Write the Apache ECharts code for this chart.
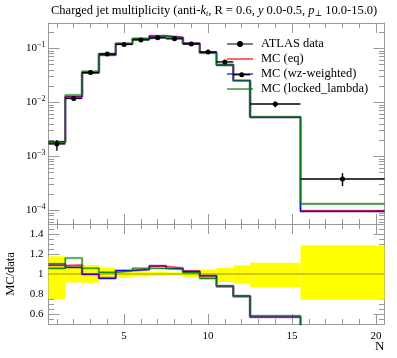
<!DOCTYPE html>
<html><head><meta charset="utf-8">
<script src="https://cdn.jsdelivr.net/npm/echarts@6/dist/echarts.min.js"></script>
<style>html,body{margin:0;padding:0;background:#fff}#c{width:397px;height:358px}</style>
</head><body><div id="c"></div>
<script>
// ---- data ----
const binLow    = [0.5,1.5,2.5,3.5,4.5,5.5,6.5,7.5,8.5,9.5,10.5,11.5,12.5,15.5];
const binHigh   = [1.5,2.5,3.5,4.5,5.5,6.5,7.5,8.5,9.5,10.5,11.5,12.5,15.5,20.5];
const binCenter = [1,2,3,4,5,6,7,8,9,10,11,12,14,18];
const dataVal     = [1.70e-3,0.0118,0.0355,0.0785,0.118,0.143,0.156,0.150,0.120,0.0855,0.0560,0.0325,0.0093,3.8e-4];
const dataErrUp   = [3.0e-4,1.06e-3,3.2e-3,5.2e-3,3.9e-3,3.6e-3,3.1e-3,2.6e-3,3.6e-3,3.8e-3,3.5e-3,2.8e-3,1.04e-3,1.08e-4];
const dataErrDown = [4.25e-4,1.0e-3,3.1e-3,4.2e-3,4.4e-3,3.6e-3,3.1e-3,2.6e-3,3.6e-3,4.7e-3,4.5e-3,3.1e-3,1.23e-3,0.98e-4];
const mcEq     = [1.845e-3,0.01286,0.0354,0.0755,0.1221,0.1494,0.1677,0.159,0.1236,0.0838,0.0489,0.02535,0.0053,9.8e-5];
const mcWz     = [1.87e-3,0.01258,0.0354,0.0750,0.1222,0.1494,0.1688,0.1583,0.1232,0.0840,0.0493,0.02535,0.0053,9.6e-5];
const mcLocked = [1.795e-3,0.01369,0.03752,0.0798,0.1219,0.1512,0.1646,0.1572,0.1216,0.0818,0.0493,0.0251,0.00542,1.32e-4];
const seriesNames = ['ATLAS data','MC (eq)','MC (wz-weighted)','MC (locked_lambda)'];
const xLabelValues = [5,10,15,20];
const xMinorTicks = [1,2,3,4,5,6,7,8,9,10,11,12,13,14,15,16,17,18,19,20];
const yMainMajor = [1e-4,1e-3,1e-2,1e-1];
const yMainMinor = [6e-5,7e-5,8e-5,9e-5,2e-4,3e-4,4e-4,5e-4,6e-4,7e-4,8e-4,9e-4,2e-3,3e-3,4e-3,5e-3,6e-3,7e-3,8e-3,9e-3,2e-2,3e-2,4e-2,5e-2,6e-2,7e-2,8e-2,9e-2,0.2];
const yRatioMajor = [0.6,0.8,1.0,1.2,1.4];
const yRatioMinor = [0.55,0.6,0.65,0.7,0.75,0.8,0.85,0.9,0.95,1.0,1.05,1.1,1.15,1.2,1.25,1.3,1.35,1.4,1.45];

// ---- style ----
const SERIF = "'Liberation Serif','DejaVu Serif',serif";
const FRAME = '#999';
const COLORS = {eq:'#ff0000', wz:'#0000ff', locked:'#008000'};
const GL = 48.5, GW = 336;

function stepData(vals){
  const pts = vals.map((v,i)=>[binLow[i], v]);
  pts.push([binHigh[binHigh.length-1], vals[vals.length-1]]);
  return pts;
}
function ratio(vals){ return vals.map((v,i)=>v/dataVal[i]); }

function xAx(grid, pos, major, withLabels){
  const a = {type:'value', gridIndex:grid, position:pos, offset:0, min:0.5, max:20.5,
    axisLine:{show:major, onZero:false, lineStyle:{color:FRAME,width:1}},
    axisTick:{show:true, inside:true, length: major?10:5, customValues: major?xLabelValues:xMinorTicks, lineStyle:{color:FRAME,width:1}},
    axisLabel:{show:false}, splitLine:{show:false}};
  if (withLabels){
    a.axisLabel = {show:true, customValues:xLabelValues, margin:7, fontFamily:SERIF, fontSize:11, color:'#000'};
    a.name = 'N'; a.nameLocation = 'end'; a.nameGap = 0; a.nameMoveOverlap = false;
    a.nameTextStyle = {fontFamily:SERIF, fontSize:13, color:'#000', align:'right', verticalAlign:'top', padding:[16,0,0,0]};
  }
  return a;
}
function yMainAx(pos, major, withLabels){
  const a = {type:'log', logBase:10, gridIndex:0, position:pos, offset:0, min:5.6e-5, max:0.294,
    axisLine:{show:major, onZero:false, lineStyle:{color:FRAME,width:1}},
    axisTick:{show:true, inside:true, length: major?11:5.5, customValues: major?yMainMajor:yMainMinor, lineStyle:{color:FRAME,width:1}},
    axisLabel:{show:false}, splitLine:{show:false}};
  if (withLabels){
    a.axisLabel = {show:true, customValues:yMainMajor, margin:3, color:'#000',
      formatter:function(v){ const e = Math.round(Math.log10(v)); return '{b|10}{s|\u2212' + (-e) + '}'; },
      rich:{b:{fontFamily:SERIF,fontSize:11,color:'#000',padding:[2,0,2,0]}, s:{fontFamily:SERIF,fontSize:8,color:'#000',verticalAlign:'top',lineHeight:8}}};
  }
  return a;
}
function yRatioAx(pos, major, withLabels){
  const a = {type:'value', gridIndex:1, position:pos, offset:0, min:0.5, max:1.5,
    axisLine:{show:major, onZero:false, lineStyle:{color:FRAME,width:1}},
    axisTick:{show:true, inside:true, length: major?11:5.5, customValues: major?yRatioMajor:yRatioMinor, lineStyle:{color:FRAME,width:1}},
    axisLabel:{show:false}, splitLine:{show:false}};
  if (withLabels){
    a.axisLabel = {show:true, customValues:yRatioMajor, margin:5, fontFamily:SERIF, fontSize:11, color:'#000',
      formatter:function(v){ return String(+(+v).toFixed(1)); }};
    a.name = 'MC/data'; a.nameLocation = 'middle'; a.nameGap = 31; a.nameRotate = 90; a.nameMoveOverlap = false;
    a.nameTextStyle = {fontFamily:SERIF, fontSize:12.5, color:'#000'};
  }
  return a;
}

function mcLine(name, vals, color, xi, yi, isRatio, halo){
  return {type:'line', name: halo ? name+' band' : name, xAxisIndex:xi, yAxisIndex:yi,
    data: stepData(isRatio ? ratio(vals) : vals), step:'end', symbol:'none', silent:true,
    clip:true, animation:false,
    itemStyle:{color:color},
    lineStyle:{color:color, width: halo?2.6:1.1, opacity: halo?0.28:0.9}, z: halo?2:3};
}

const dataPoints = binCenter.map((c,i)=>[c, dataVal[i], binLow[i], binHigh[i], dataVal[i]-dataErrDown[i], dataVal[i]+dataErrUp[i]]);
const bandRects = binCenter.map((c,i)=>[c, 1, binLow[i], binHigh[i], (dataVal[i]-dataErrDown[i])/dataVal[i], (dataVal[i]+dataErrUp[i])/dataVal[i]]);

const option = {
  animation:false,
  backgroundColor:'#fff',
  title:{left:51, top:1, padding:[2,0,0,0],
    text:'{n|Charged jet multiplicity (anti-}{i|k}{u|t}{n|, R = 0.6, }{i|y}{n| 0.0-0.5, }{i|p}{u|\u22a5}{n| 10.0-15.0)}',
    textStyle:{fontWeight:'normal', rich:{
      n:{fontFamily:SERIF,fontSize:12.5,fontWeight:'normal',color:'#000',lineHeight:15},
      i:{fontFamily:SERIF,fontSize:12.5,fontWeight:'normal',fontStyle:'italic',color:'#000',lineHeight:15},
      u:{fontFamily:SERIF,fontSize:8,fontWeight:'normal',fontStyle:'italic',color:'#000',lineHeight:8,verticalAlign:'bottom'}}}},
  legend:{orient:'vertical', left:227, top:36.5, padding:0, itemWidth:26, itemHeight:6, itemGap:0,
    itemStyle:{borderWidth:0}, selectedMode:false,
    textStyle:{fontFamily:SERIF, fontSize:12.5, color:'#000', lineHeight:15, padding:[0,0,0,3]},
    data:[
      {name:seriesNames[0], icon:'path://M0,2.4h10.5v1.2h-10.5z M15.5,2.4h10.5v1.2h-10.5z M10,3a3,3 0 1,1 6,0a3,3 0 1,1 -6,0z'},
      {name:seriesNames[1], icon:'path://M0,0 M0,6 M0,2.4h26v1.2h-26z'},
      {name:seriesNames[2], icon:'path://M0,0 M0,6 M0,2.4h26v1.2h-26z'},
      {name:seriesNames[3], icon:'path://M0,0 M0,6 M0,2.4h26v1.2h-26z'}
    ]},
  grid:[
    {left:GL, top:23, width:GW, height:201, containLabel:false, outerBoundsMode:'none'},
    {left:GL, top:224, width:GW, height:100, containLabel:false, outerBoundsMode:'none'}
  ],
  xAxis:[
    xAx(0,'bottom',true,false), xAx(0,'bottom',false,false), xAx(0,'top',true,false), xAx(0,'top',false,false),
    xAx(1,'bottom',true,true), xAx(1,'bottom',false,false), xAx(1,'top',true,false), xAx(1,'top',false,false)
  ],
  yAxis:[
    yMainAx('left',true,true), yMainAx('left',false,false), yMainAx('right',true,false), yMainAx('right',false,false),
    yRatioAx('left',true,true), yRatioAx('left',false,false), yRatioAx('right',true,false), yRatioAx('right',false,false)
  ],
  series:[
    {type:'custom', name:'data band', xAxisIndex:4, yAxisIndex:4, data:bandRects, silent:true, z:1,
      encode:{x:0,y:1},
      renderItem:function(params, api){
        const p1 = api.coord([api.value(2), api.value(5)]);
        const p2 = api.coord([api.value(3), api.value(4)]);
        return {type:'rect', shape:{x:p1[0], y:p1[1], width:p2[0]-p1[0], height:p2[1]-p1[1]}, style:{fill:'#ffff00'}};
      }},
    {type:'line', name:'data ratio', xAxisIndex:4, yAxisIndex:4, data:stepData(dataVal.map(()=>1)), step:'end', symbol:'none',
      silent:true, lineStyle:{color:'rgba(0,0,0,0.4)', width:1}, z:2},
    mcLine(seriesNames[1], mcEq, COLORS.eq, 4, 4, true, true),
    mcLine(seriesNames[2], mcWz, COLORS.wz, 4, 4, true, true),
    mcLine(seriesNames[3], mcLocked, COLORS.locked, 4, 4, true, true),
    mcLine(seriesNames[1], mcEq, COLORS.eq, 4, 4, true, false),
    mcLine(seriesNames[2], mcWz, COLORS.wz, 4, 4, true, false),
    mcLine(seriesNames[3], mcLocked, COLORS.locked, 4, 4, true, false),
    mcLine(seriesNames[1], mcEq, COLORS.eq, 0, 0, false, false),
    mcLine(seriesNames[2], mcWz, COLORS.wz, 0, 0, false, false),
    mcLine(seriesNames[3], mcLocked, COLORS.locked, 0, 0, false, false),
    mcLine(seriesNames[1], mcEq, COLORS.eq, 0, 0, false, true),
    mcLine(seriesNames[2], mcWz, COLORS.wz, 0, 0, false, true),
    mcLine(seriesNames[3], mcLocked, COLORS.locked, 0, 0, false, true),
    {type:'custom', name:seriesNames[0], xAxisIndex:0, yAxisIndex:0, data:dataPoints, silent:true, z:5,
      itemStyle:{color:'#000'}, encode:{x:0,y:1},
      renderItem:function(params, api){
        const c = api.coord([api.value(0), api.value(1)]);
        const l = api.coord([api.value(2), api.value(1)]);
        const r = api.coord([api.value(3), api.value(1)]);
        const lo = api.coord([api.value(0), api.value(4)]);
        const hi = api.coord([api.value(0), api.value(5)]);
        return {type:'group', children:[
          {type:'line', shape:{x1:l[0],y1:l[1],x2:r[0],y2:r[1]}, style:{stroke:'#000', lineWidth:1.4}},
          {type:'line', shape:{x1:lo[0],y1:lo[1],x2:hi[0],y2:hi[1]}, style:{stroke:'#000', lineWidth:1.4}},
          {type:'circle', shape:{cx:c[0],cy:c[1],r:2.5}, style:{fill:'#000'}}
        ]};
      }}
  ]
};
const chart = echarts.init(document.getElementById('c'), null, {renderer:'canvas'});
chart.setOption(option);
</script>
</body></html>
